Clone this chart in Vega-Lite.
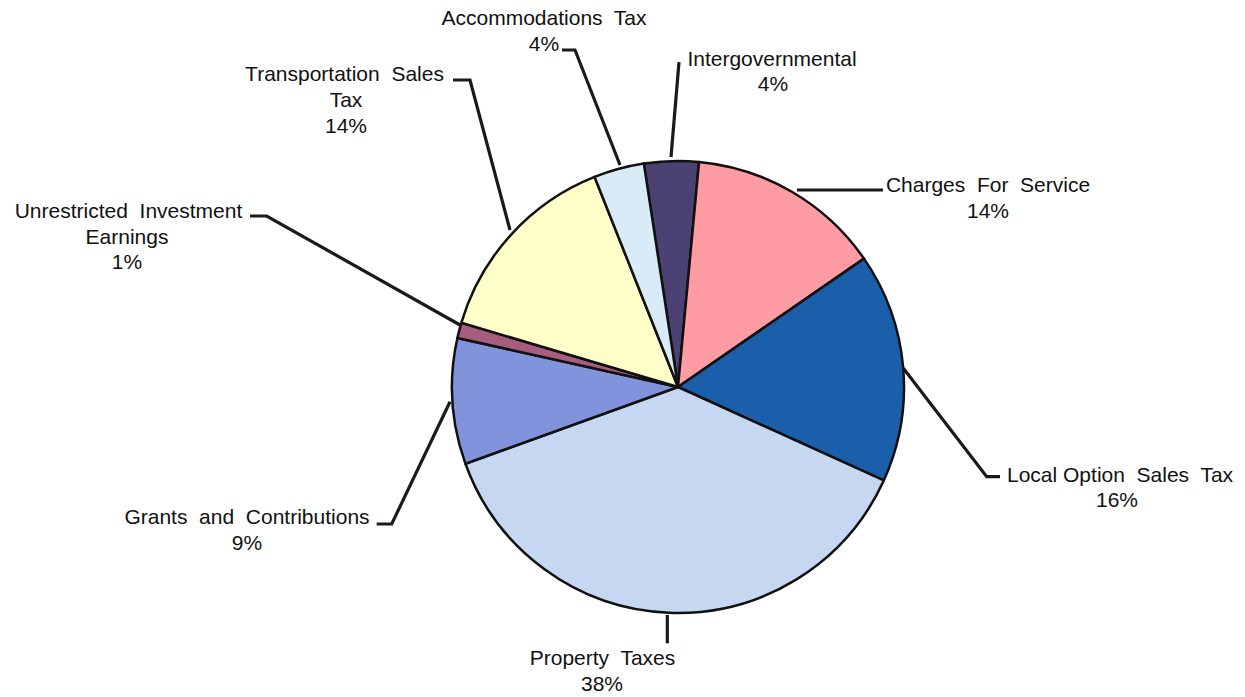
{
  "$schema": "https://vega.github.io/schema/vega-lite/v6.json",
  "width": 1245,
  "height": 697,
  "autosize": {"type": "fit", "contains": "padding"},
  "padding": 0,
  "background": "white",
  "config": {"view": {"stroke": null}},
  "datasets": {
    "slices": [
      {"name": "Intergovernmental", "value": 3.9, "order": 1},
      {"name": "Charges For Service", "value": 13.9, "order": 2},
      {"name": "Local Option Sales Tax", "value": 16.4, "order": 3},
      {"name": "Property Taxes", "value": 37.7, "order": 4},
      {"name": "Grants and Contributions", "value": 9.0, "order": 5},
      {"name": "Unrestricted Investment Earnings", "value": 1.1, "order": 6},
      {"name": "Transportation Sales Tax", "value": 14.4, "order": 7},
      {"name": "Accommodations Tax", "value": 3.6, "order": 8}
    ],
    "leaders": [
      {"name": "Transportation Sales Tax", "i": 1, "x": -0.9956, "y": 1.3584},
      {"name": "Transportation Sales Tax", "i": 2, "x": -0.9204, "y": 1.3584},
      {"name": "Transportation Sales Tax", "i": 3, "x": -0.7434, "y": 0.6947},
      {"name": "Accommodations Tax", "i": 1, "x": -0.5133, "y": 1.4912},
      {"name": "Accommodations Tax", "i": 2, "x": -0.4558, "y": 1.4912},
      {"name": "Accommodations Tax", "i": 3, "x": -0.2566, "y": 0.9823},
      {"name": "Intergovernmental", "i": 1, "x": 0.0044, "y": 1.438},
      {"name": "Intergovernmental", "i": 2, "x": -0.031, "y": 1.0177},
      {"name": "Charges For Service", "i": 1, "x": 0.5265, "y": 0.8717},
      {"name": "Charges For Service", "i": 2, "x": 0.9071, "y": 0.8717},
      {"name": "Local Option Sales Tax", "i": 1, "x": 0.9969, "y": 0.0827},
      {"name": "Local Option Sales Tax", "i": 2, "x": 1.3659, "y": -0.3969},
      {"name": "Local Option Sales Tax", "i": 3, "x": 1.4248, "y": -0.3969},
      {"name": "Grants and Contributions", "i": 1, "x": -1.3332, "y": -0.6062},
      {"name": "Grants and Contributions", "i": 2, "x": -1.2668, "y": -0.6062},
      {"name": "Grants and Contributions", "i": 3, "x": -1.0088, "y": -0.065},
      {"name": "Unrestricted Investment Earnings", "i": 1, "x": -1.8938, "y": 0.7566},
      {"name": "Unrestricted Investment Earnings", "i": 2, "x": -1.8199, "y": 0.7566},
      {"name": "Unrestricted Investment Earnings", "i": 3, "x": -0.9646, "y": 0.2743},
      {"name": "Property Taxes", "i": 1, "x": -0.0473, "y": -1.0088},
      {"name": "Property Taxes", "i": 2, "x": -0.0473, "y": -1.134}
    ],
    "labels": [
      {"t": "Transportation\u00a0 Sales", "x": -1.4757, "y": 1.354},
      {"t": "Tax", "x": -1.469, "y": 1.2389},
      {"t": "14%", "x": -1.469, "y": 1.1239},
      {"t": "Unrestricted\u00a0 Investment", "x": -2.4314, "y": 0.7478},
      {"t": "Earnings", "x": -2.438, "y": 0.6327},
      {"t": "1%", "x": -2.438, "y": 0.5221},
      {"t": "Accommodations\u00a0 Tax", "x": -0.5929, "y": 1.6018},
      {"t": "4%", "x": -0.5929, "y": 1.4867},
      {"t": "Intergovernmental", "x": 0.4159, "y": 1.4204},
      {"t": "4%", "x": 0.4204, "y": 1.3097},
      {"t": "Charges\u00a0 For\u00a0 Service", "x": 1.3717, "y": 0.8628},
      {"t": "14%", "x": 1.3717, "y": 0.7478},
      {"t": "Local Option\u00a0 Sales\u00a0 Tax", "x": 1.9558, "y": -0.4204},
      {"t": "16%", "x": 1.9425, "y": -0.531},
      {"t": "Grants\u00a0 and\u00a0 Contributions", "x": -1.9071, "y": -0.6062},
      {"t": "9%", "x": -1.9071, "y": -0.7212},
      {"t": "Property\u00a0 Taxes", "x": -0.3341, "y": -1.2301},
      {"t": "38%", "x": -0.3363, "y": -1.3451}
    ]
  },
  "layer": [
    {
      "data": {"name": "leaders"},
      "mark": {"type": "line", "color": "#1a1a1a", "strokeWidth": 3.2, "strokeCap": "butt", "strokeJoin": "miter"},
      "encoding": {
        "x": {"field": "x", "type": "quantitative", "axis": null, "scale": {"domain": [-3.0, 2.5088], "nice": false, "zero": false}},
        "y": {"field": "y", "type": "quantitative", "axis": null, "scale": {"domain": [-1.3717, 1.7124], "nice": false, "zero": false}},
        "detail": {"field": "name"},
        "order": {"field": "i"}
      }
    },
    {
      "data": {"name": "slices"},
      "mark": {"type": "arc", "outerRadius": 226, "stroke": "#111111", "strokeWidth": 2.5, "strokeJoin": "round"},
      "encoding": {
        "x": {"datum": 0, "type": "quantitative"},
        "y": {"datum": 0, "type": "quantitative"},
        "theta": {"field": "value", "type": "quantitative", "stack": true, "scale": {"range": [-0.1518, 6.1314]}},
        "order": {"field": "order", "type": "quantitative"},
        "color": {
          "field": "name",
          "type": "nominal",
          "legend": null,
          "scale": {
            "domain": ["Intergovernmental", "Charges For Service", "Local Option Sales Tax", "Property Taxes", "Grants and Contributions", "Unrestricted Investment Earnings", "Transportation Sales Tax", "Accommodations Tax"],
            "range": ["#4b4173", "#ff9ba3", "#1b5eaa", "#c6d7f2", "#8193da", "#a65d7e", "#ffffca", "#d8ebf7"]
          }
        }
      }
    },
    {
      "data": {"name": "labels"},
      "mark": {"type": "text", "font": "Liberation Sans", "fontSize": 21, "align": "center", "baseline": "alphabetic", "color": "#111111"},
      "encoding": {
        "x": {"field": "x", "type": "quantitative"},
        "y": {"field": "y", "type": "quantitative"},
        "text": {"field": "t"}
      }
    }
  ]
}
